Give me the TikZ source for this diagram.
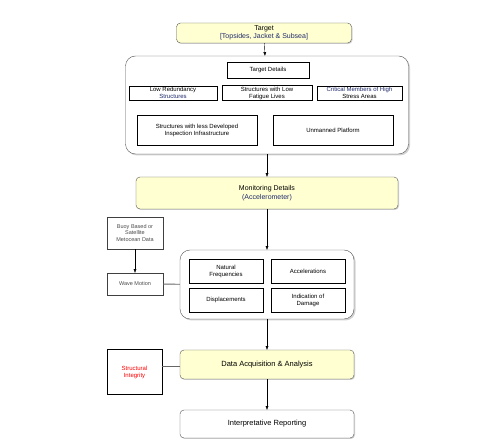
\documentclass[tikz,border=0pt]{standalone}
\usepackage{fontspec}
\setmainfont{Liberation Sans}
\usetikzlibrary{arrows.meta,shadows}

\definecolor{paleyellow}{HTML}{FFFFD2}
\definecolor{subtext}{HTML}{1F2A6B}
\definecolor{edgegray}{HTML}{555555}

\tikzset{
  hilite/.style={draw=edgegray, fill=paleyellow, rounded corners=4pt, align=center,
    font=\fontsize{7}{8.5}\selectfont, inner sep=1pt,
    drop shadow={shadow xshift=1pt, shadow yshift=-1pt, fill=gray!70}},
  groupbox/.style={draw=edgegray, fill=white, rounded corners=10pt,
    drop shadow={shadow xshift=1.5pt, shadow yshift=-1.5pt, fill=gray!70}},
  itembox/.style={draw=black, thick, fill=white, align=center, inner sep=1pt,
    font=\fontsize{6}{7}\selectfont},
  sidebox/.style={draw=black!75, fill=white, align=center, inner sep=1pt,
    font=\fontsize{5.5}{6.5}\selectfont, text=black!70},
  plainbox/.style={draw=edgegray, fill=white, rounded corners=4pt, align=center,
    font=\fontsize{7.5}{9}\selectfont,
    drop shadow={shadow xshift=1pt, shadow yshift=-1pt, fill=gray!70}},
}

\begin{document}
\begin{tikzpicture}[x=1pt, y=-1pt, arrows={-Triangle[angle=40:4pt]}]
	\useasboundingbox (0,0) rectangle (493,443);

	\node [hilite, minimum width=175pt, minimum height=20pt] (T) at (264,33)
		{Target\\{\color{subtext}[Topsides, Jacket \& Subsea]}};

	\node [groupbox, minimum width=283pt, minimum height=98pt] (G) at (267,105) {};
	\node [itembox, minimum width=82pt, minimum height=16pt] (TD) at (268,70) {Target Details};
	\node [itembox, minimum width=88pt, minimum height=14pt] (LR) at (173,93)
		{Low Redundancy\\{\color{subtext}Structures}};
	\node [itembox, minimum width=90pt, minimum height=14pt] (LF) at (267,93)
		{Structures with Low\\Fatigue Lives};
	\node [itembox, minimum width=85pt, minimum height=14pt] (CM) at (359.5,93)
		{{\color{subtext}Critical Members of High}\\Stress Areas};
	\node [itembox, minimum width=120pt, minimum height=30pt] (LD) at (197,130)
		{Structures with less Developed\\Inspection Infrastructure};
	\node [itembox, minimum width=120pt, minimum height=30pt] (UP) at (333,130)
		{Unmanned Platform};

	\node [hilite, minimum width=262pt, minimum height=32pt] (MD) at (267,193)
		{Monitoring Details\\{\color{subtext}(Accelerometer)}};

	\node [sidebox, minimum width=56pt, minimum height=32pt] (BD) at (135,233)
		{Buoy Based or\\Satellite\\Metocean Data};
	\node [sidebox, minimum width=56pt, minimum height=22pt] (WM) at (135,284) {Wave Motion};

	\node [groupbox, minimum width=174pt, minimum height=69pt] (M) at (267,284.5) {};
	\node [itembox, minimum width=74pt, minimum height=24pt] (NF) at (226,271)
		{Natural\\Frequencies};
	\node [itembox, minimum width=74pt, minimum height=24pt] (AC) at (308,271)
		{Accelerations};
	\node [itembox, minimum width=74pt, minimum height=24pt] (DS) at (226,300)
		{Displacements};
	\node [itembox, minimum width=74pt, minimum height=24pt] (ID) at (308,300)
		{Indication of\\Damage};

	\node [hilite, font=\fontsize{7.5}{9}\selectfont, minimum width=174pt, minimum height=29pt] (DA) at (267,364.5)
		{Data Acquisition \& Analysis};
	\node [itembox, minimum width=55pt, minimum height=45pt, text=red] (SI) at (134.5,372)
		{Structural\\Integrity};

	\node [plainbox, minimum width=174pt, minimum height=28pt] (IR) at (267,424)
		{Interpretative Reporting};

	\draw (T) -- (G);
	\draw (G) -- (MD);
	\draw (MD) -- (M);
	\draw (M) -- (DA);
	\draw (DA) -- (IR);
	\draw (BD) -- (WM);
	\draw [-, thick, black!60] (WM) -- (M);
	\draw [-, thick, black!60] ([yshift=-2pt]DA.west) -- ([yshift=-2pt]DA.west -| SI.east);
\end{tikzpicture}
\end{document}
